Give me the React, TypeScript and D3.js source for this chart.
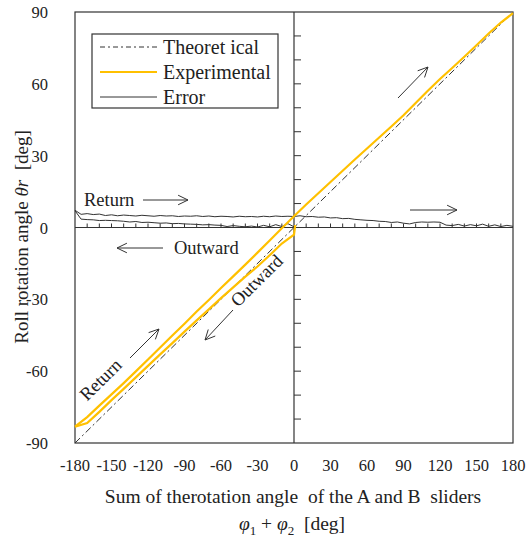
import React from "react";
import * as d3 from "d3";

// ---------- data ----------
const xTicks = [-180, -150, -120, -90, -60, -30, 0, 30, 60, 90, 120, 150, 180];
const yTicks = [-90, -60, -30, 0, 30, 60, 90];
const minorTicks = [-170, -160, -150, -140, -130, -120, -110, -100, -90, -80, -70, -60, -50, -40, -30, -20, -10, 10, 20, 30, 40, 50, 60, 70, 80, 90, 100, 110, 120, 130, 140, 150, 160, 170];
const yMinorTicks = [-80, -70, -60, -50, -40, -30, -20, -10, 10, 20, 30, 40, 50, 60, 70, 80];

const theoX = [-180, 180];
const theoY = [-90, 90];

// Experimental – outward (0 -> -180)
const outX = [1, 0, -10, -20, -30, -40, -50, -60, -70, -80, -90, -100, -110, -120, -130, -140, -150, -160, -170, -180];
const outY = [1.0, -3.0, -6.7, -11.6, -16.3, -20.5, -25.0, -29.5, -34.2, -38.8, -43.5, -48.3, -53.0, -57.8, -62.6, -67.4, -72.1, -77.0, -81.7, -83.2];

// Experimental – return (-180 -> 180)
const retX = [-180, -170, -160, -150, -140, -130, -120, -110, -100, -90, -80, -70, -60, -50, -40, -30, -20, -10, 0, 10, 20, 30, 40, 50, 60, 70, 80, 90, 100, 110, 120, 130, 140, 150, 160, 170, 180];
const retY = [-83.2, -79.2, -74.4, -69.7, -65.0, -60.1, -55.1, -50.1, -45.1, -40.2, -35.1, -30.3, -25.3, -20.4, -15.5, -10.5, -5.4, -0.3, 4.7, 9.6, 14.3, 19.0, 23.7, 28.4, 33.0, 37.6, 42.2, 46.9, 52.0, 57.1, 62.0, 66.6, 71.3, 76.1, 81.0, 85.6, 89.5];

// Error – return
const errRetX = [-180, -175, -170, -165, -160, -155, -150, -145, -140, -135, -130, -125, -120, -115, -110, -105, -100, -95, -90, -85, -80, -75, -70, -65, -60, -55, -50, -45, -40, -35, -30, -25, -20, -15, -10, -5, 0, 5, 10, 15, 20, 25, 30, 35, 40, 45, 50, 55, 60, 65, 70, 75, 80, 85, 90, 95, 100, 105, 110, 115, 120, 125, 130, 135, 140, 145, 150, 155, 160, 165, 170, 175, 180];
const errRetY = [7.2, 5.5, 5.8, 5.4, 5.6, 5.0, 5.3, 4.9, 5.2, 5.0, 4.8, 5.1, 4.9, 4.7, 5.0, 4.8, 4.9, 4.6, 4.8, 4.7, 4.9, 4.6, 4.8, 4.5, 4.7, 4.6, 4.4, 4.7, 4.5, 4.6, 4.4, 4.7, 4.5, 4.8, 4.6, 4.7, 4.6, 4.9, 4.5, 4.6, 4.3, 4.4, 4.0, 4.1, 3.7, 3.8, 3.4, 3.2, 3.0, 2.9, 2.6, 2.5, 2.1, 2.3, 1.8, 1.5, 2.1, 2.3, 2.2, 2.3, 2.2, 1.0, 0.8, 1.3, 0.6, 1.2, 0.7, 1.4, 0.5, 1.1, 0.4, 0.9, 0.5];

// Error – outward
const errOutX = [0, -5, -10, -15, -20, -25, -30, -35, -40, -45, -50, -55, -60, -65, -70, -75, -80, -85, -90, -95, -100, -105, -110, -115, -120, -125, -130, -135, -140, -145, -150, -155, -160, -165, -170, -175, -180];
const errOutY = [0.3, 1.6, 0.4, 1.2, 0.3, 0.9, 0.2, 0.6, 0.3, 0.5, 0.8, 0.4, 0.9, 1.0, 1.2, 1.1, 1.3, 1.4, 1.5, 1.7, 1.6, 1.9, 1.8, 2.0, 2.2, 2.1, 2.5, 2.3, 2.6, 2.8, 2.9, 3.0, 2.9, 3.2, 3.3, 3.5, 7.0];

const legendLabels = ["Theoret ical", "Experimental", "Error"];

// ---------- layout ----------
const W = 529, H = 542;
const L = 75, R = 513, T = 12, B = 443;
const FONT = "Liberation Serif, Times New Roman, DejaVu Serif, serif";
const AX = "#333";
const YEL = "#FFC000";

const x = d3.scaleLinear().domain([-180, 180]).range([L, R]);
const y = d3.scaleLinear().domain([-90, 90]).range([B, T]);

const line = (xs: number[], ys: number[]) =>
  d3.line<number>().x((_, i) => x(xs[i])).y((_, i) => y(ys[i]))(xs) || "";

function Arrow({ x1, y1, x2, y2 }: { x1: number; y1: number; x2: number; y2: number }) {
  const a = Math.atan2(y2 - y1, x2 - x1);
  const hl = 11, ha = 0.45;
  const p1 = [x2 - hl * Math.cos(a - ha), y2 - hl * Math.sin(a - ha)];
  const p2 = [x2 - hl * Math.cos(a + ha), y2 - hl * Math.sin(a + ha)];
  return (
    <g stroke={AX} strokeWidth={1} fill="none">
      <line x1={x1} y1={y1} x2={x2} y2={y2} />
      <polyline points={`${p1[0]},${p1[1]} ${x2},${y2} ${p2[0]},${p2[1]}`} />
    </g>
  );
}

export default function App() {
  const x0 = x(0), y0 = y(0);
  const slopeDeg = (Math.atan2(y(45) - y(0), x(90) - x(0)) * 180) / Math.PI;
  return (
    <svg width={W} height={H} style={{ position: "absolute", left: 0, top: 0, background: "#fff", fontFamily: FONT }}>
      <rect x={0} y={0} width={W} height={H} fill="#fff" />
      {/* frame */}
      <rect x={L} y={T} width={R - L} height={B - T} fill="none" stroke={AX} strokeWidth={1.2} />
      {/* central axes */}
      <line x1={L} x2={R} y1={y0} y2={y0} stroke={AX} strokeWidth={1.2} />
      <line x1={x0} x2={x0} y1={T} y2={B} stroke={AX} strokeWidth={1.2} />
      {minorTicks.map((t) => (
        <line key={"mx" + t} x1={x(t)} x2={x(t)} y1={y0} y2={y0 - 4} stroke={AX} strokeWidth={1} />
      ))}
      {yMinorTicks.map((t) => (
        <line key={"my" + t} x1={x0} x2={x0 + 7} y1={y(t)} y2={y(t)} stroke={AX} strokeWidth={1} />
      ))}
      {/* tick labels */}
      {xTicks.map((t) => (
        <text key={"xl" + t} x={x(t)} y={471} textAnchor="middle" fontSize={16.5} fill="#222">
          {t}
        </text>
      ))}
      {yTicks.map((t) => (
        <text key={"yl" + t} x={48} y={y(t) + 6} textAnchor="end" fontSize={16.5} fill="#222">
          {t}
        </text>
      ))}
      {/* axis titles */}
      <text x={293} y={503} textAnchor="middle" fontSize={19.5} fill="#222" xmlSpace="preserve">
        {"Sum of therotation angle  of the A and B  sliders"}
      </text>
      <text x={292} y={530} textAnchor="middle" fontSize={19.5} fill="#222" xmlSpace="preserve">
        <tspan fontStyle="italic">φ</tspan>
        <tspan fontSize={13} dy={5}>1</tspan>
        <tspan dy={-5}>{" + "}</tspan>
        <tspan fontStyle="italic">φ</tspan>
        <tspan fontSize={13} dy={5}>2</tspan>
        <tspan dy={-5}>{"  [deg]"}</tspan>
      </text>
      <text transform={`translate(28,237) rotate(-90)`} textAnchor="middle" fontSize={19} fill="#222" xmlSpace="preserve">
        {"Roll rotation angle "}
        <tspan fontStyle="italic">θr</tspan>
        {"  [deg]"}
      </text>

      {/* data */}
      <path d={line(theoX, theoY)} fill="none" stroke={AX} strokeWidth={1} strokeDasharray="7,3,2,3" />
      <path d={line(errRetX, errRetY)} fill="none" stroke="#333" strokeWidth={1} />
      <path d={line(errOutX, errOutY)} fill="none" stroke="#333" strokeWidth={1} />
      <path d={line(outX, outY)} fill="none" stroke={YEL} strokeWidth={2.2} />
      <path d={line(retX, retY)} fill="none" stroke={YEL} strokeWidth={2.2} />

      {/* annotations */}
      <text x={84} y={206} fontSize={18.5} fill="#222">Return</text>
      <Arrow x1={143} y1={200} x2={188} y2={200} />
      <Arrow x1={410} y1={210} x2={457} y2={210} />
      <Arrow x1={163} y1={248} x2={117} y2={248} />
      <text x={174} y={254} fontSize={18.5} fill="#222">Outward</text>
      <Arrow x1={398} y1={98} x2={428} y2={67} />
      <text transform={`translate(261,285) rotate(${slopeDeg})`} textAnchor="middle" fontSize={18.5} fill="#222">Outward</text>
      <Arrow x1={233} y1={310} x2={205} y2={340} />
      <text transform={`translate(105,384) rotate(${slopeDeg})`} textAnchor="middle" fontSize={18.5} fill="#222">Return</text>
      <Arrow x1={130} y1={358} x2={159} y2={329} />

      {/* legend */}
      <rect x={92} y={34} width={186} height={74} fill="#fff" stroke={AX} strokeWidth={1.2} />
      <line x1={100} x2={157} y1={47} y2={47} stroke={AX} strokeWidth={1} strokeDasharray="5,3,2,3" />
      <line x1={100} x2={157} y1={72} y2={72} stroke={YEL} strokeWidth={2.2} />
      <line x1={100} x2={157} y1={97} y2={97} stroke={AX} strokeWidth={1} />
      {legendLabels.map((s, i) => (
        <text key={s} x={163} y={54 + i * 25} fontSize={20} fill="#222" xmlSpace="preserve">
          {s}
        </text>
      ))}
    </svg>
  );
}
